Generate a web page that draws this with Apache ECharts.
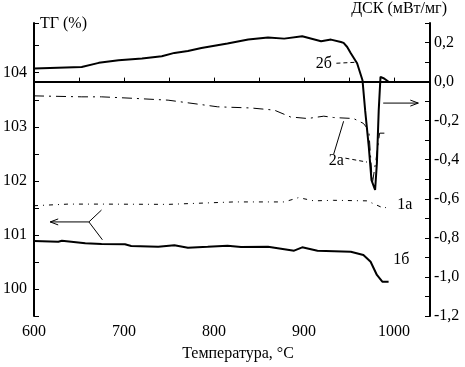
<!DOCTYPE html>
<html>
<head>
<meta charset="utf-8">
<script src="https://cdn.jsdelivr.net/npm/echarts@6/dist/echarts.min.js"></script>
<style>
  html, body { margin: 0; padding: 0; background: #fff; }
  #chart { width: 465px; height: 367px; }
</style>
</head>
<body>
<div id="chart"></div>
<script>
// curve 2б (DSC, right axis)
const dsc2b = [
  [600, 0.067], [653, 0.075], [672, 0.096], [694, 0.109], [720, 0.118],
  [742, 0.130], [756, 0.147], [771, 0.157], [786, 0.172], [815, 0.195],
  [838, 0.215], [860, 0.226], [878, 0.220], [898, 0.232], [919, 0.207],
  [930, 0.215], [941, 0.203], [944, 0.198], [948, 0.177], [952, 0.145],
  [959, 0.094], [965, 0.007], [968, -0.150], [972, -0.334], [975, -0.504],
  [979, -0.555], [981, -0.417], [983, -0.150], [985, 0.024], [989, 0.016],
  [994, -0.001]
];

// curve 2а (DSC, right axis)
const dsc2a = [
  [600, -0.073], [653, -0.078], [675, -0.078], [712, -0.086], [749, -0.095],
  [804, -0.129], [841, -0.135], [867, -0.146], [885, -0.181], [904, -0.189],
  [922, -0.177], [933, -0.184], [955, -0.189], [966, -0.214], [972, -0.249],
  [976, -0.520], [980, -0.400], [984, -0.264], [992, -0.264]
];

// curve 1а (TG, left axis)
const tg1a = [
  [600, 101.54], [638, 101.57], [675, 101.57], [749, 101.565], [822, 101.61],
  [878, 101.61], [894, 101.69], [911, 101.63], [933, 101.64], [970, 101.63],
  [981, 101.55], [989, 101.49], [992, 101.52]
];

// curve 1б (TG, left axis)
const tg1b = [
  [600, 100.887], [627, 100.874], [631, 100.892], [657, 100.844], [675, 100.831],
  [701, 100.826], [708, 100.794], [738, 100.781], [756, 100.807], [771, 100.763],
  [793, 100.781], [815, 100.800], [830, 100.776], [860, 100.781], [889, 100.708],
  [898, 100.770], [915, 100.708], [952, 100.690], [966, 100.628], [974, 100.504],
  [981, 100.259], [987, 100.135], [994, 100.135]
];

// annotations in data units: [T, value]
const labelsRight = [
  { text: "2б", at: [922, 0.089] },
  { text: "2а", at: [936, -0.407] }
];
const labelsLeft = [
  { text: "1а", at: [1012, 101.55] },
  { text: "1б", at: [1008, 100.54] }
];
const leadersRight = [
  { from: [936, 0.094], to: [958, 0.099], dash: [4, 3] },
  { from: [933, -0.371], to: [944, -0.203], dash: null },
  { from: [946, -0.392], to: [970, -0.412], dash: [4, 3] }
];
const arrowRight = { from: [988, -0.110], to: [1027, -0.110] };
const arrowLeft = { tip: [618, 101.24], fork: [661, 101.24], up: [675, 101.46], down: [676, 100.91] };

const serif = "Liberation Serif";
const chart = echarts.init(document.getElementById("chart"));

const fmtComma = v => {
  const k = Math.round(v * 10);
  if (k % 2 !== 0) return "";
  return (k / 10).toFixed(1).replace(".", ",");
};

chart.setOption({
  animation: false,
  backgroundColor: "#fff",
  grid: { left: 32, right: 35, top: 23, bottom: 51 },
  xAxis: {
    type: "value",
    min: 600,
    max: 1040,
    interval: 50,
    name: "Температура, °С",
    nameLocation: "middle",
    nameGap: 30,
    nameTextStyle: { fontFamily: serif, fontSize: 16, color: "#000", padding: [0, 0, 0, 12] },
    axisLine: { lineStyle: { color: "#000", width: 2 } },
    axisTick: { inside: true, length: 4, lineStyle: { color: "#000" } },
    axisLabel: {
      fontFamily: serif, fontSize: 16, color: "#000", margin: 8,
      formatter: v => (v % 100 === 0 ? String(v) : "")
    },
    splitLine: { show: false }
  },
  yAxis: [
    {
      type: "value",
      min: 99.5,
      max: 104.92,
      interval: 0.5,
      position: "left",
      axisLine: { show: true, lineStyle: { color: "#000", width: 2 } },
      axisTick: { show: true, inside: true, length: 5, lineStyle: { color: "#000" } },
      axisLabel: {
        fontFamily: serif, fontSize: 16, color: "#000", margin: 7,
        formatter: v => (Math.abs(v - Math.round(v)) < 1e-6 ? String(Math.round(v)) : "")
      },
      splitLine: { show: false }
    },
    {
      type: "value",
      min: -1.2,
      max: 0.3,
      interval: 0.1,
      position: "right",
      axisLine: { show: true, lineStyle: { color: "#000", width: 2 } },
      axisTick: { show: true, inside: true, length: 5, lineStyle: { color: "#000" } },
      axisLabel: { fontFamily: serif, fontSize: 16, color: "#000", margin: 4, formatter: fmtComma },
      splitLine: { show: false }
    }
  ],
  series: [
    {
      name: "2б", type: "line", yAxisIndex: 1, data: dsc2b, showSymbol: false,
      lineStyle: { color: "#000", width: 2 }
    },
    {
      name: "2а", type: "line", yAxisIndex: 1, data: dsc2a, showSymbol: false,
      lineStyle: { color: "#000", width: 1, type: [10, 5, 2, 5] }
    },
    {
      name: "1а", type: "line", yAxisIndex: 0, data: tg1a, showSymbol: false,
      lineStyle: { color: "#000", width: 1, type: [4, 5, 1, 5] }
    },
    {
      name: "1б", type: "line", yAxisIndex: 0, data: tg1b, showSymbol: false,
      lineStyle: { color: "#000", width: 2 }
    }
  ]
});

// overlay: axis titles, curve labels, leaders and arrows
const pR = p => chart.convertToPixel({ xAxisIndex: 0, yAxisIndex: 1 }, p);
const pL = p => chart.convertToPixel({ xAxisIndex: 0, yAxisIndex: 0 }, p);
const txt = (text, pos, align) => ({
  type: "text", x: pos[0], y: pos[1], silent: true,
  style: { text, fill: "#000", font: "16px " + serif, align: align || "center", verticalAlign: "middle" }
});
const seg = (a, b, dash) => ({
  type: "line", silent: true,
  shape: { x1: a[0], y1: a[1], x2: b[0], y2: b[1] },
  style: { stroke: "#000", lineWidth: 1, lineDash: dash || null }
});

const g = [];
g.push(txt("ТГ (%)", [40, 24], "left"));
g.push(txt("ДСК (мВт/мг)", [447, 9], "right"));
labelsRight.forEach(l => g.push(txt(l.text, pR(l.at))));
labelsLeft.forEach(l => g.push(txt(l.text, pL(l.at))));
leadersRight.forEach(l => g.push(seg(pR(l.from), pR(l.to), l.dash)));

const ar0 = pR(arrowRight.from), ar1 = pR(arrowRight.to);
g.push(seg(ar0, ar1));
g.push(seg([ar1[0] - 8, ar1[1] - 3], ar1));
g.push(seg([ar1[0] - 8, ar1[1] + 3], ar1));

const tip = pL(arrowLeft.tip), fork = pL(arrowLeft.fork);
g.push(seg(tip, fork));
g.push(seg([tip[0] + 8, tip[1] - 3], tip));
g.push(seg([tip[0] + 8, tip[1] + 3], tip));
g.push(seg(fork, pL(arrowLeft.up)));
g.push(seg(fork, pL(arrowLeft.down)));

chart.setOption({ graphic: g });
</script>
</body>
</html>
